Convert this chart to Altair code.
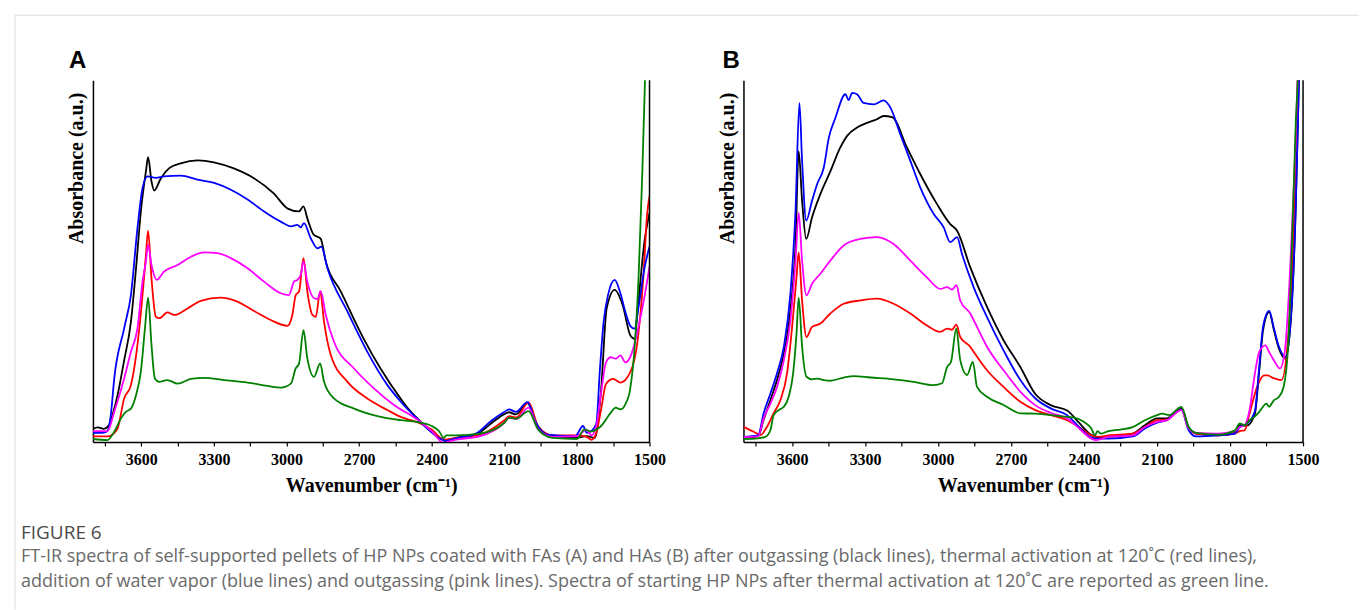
import altair as alt
import pandas as pd

# ---------------- data (wavenumber cm-1, absorbance a.u.) ----------------
WAVENUMBER_TICKS = [3750, 3600, 3450, 3300, 3150, 3000, 2850, 2700, 2550,
                    2400, 2250, 2100, 1950, 1800, 1650, 1500]
SERIES = ["black", "red", "blue", "pink", "green"]
COLORS = ["#000000", "#ff0000", "#0000ff", "#ff00ff", "#008000"]

A_BLACK = [(3800, 3.6), (3780, 4.0), (3755, 3.6), (3735, 4.5), (3719, 7.5), (3698, 13.0), (3672, 22.2),
           (3643, 33.2), (3622, 47.9), (3602, 63.7), (3581, 74.8), (3572, 78.7), (3558, 72.0), (3547, 69.5),
           (3519, 72.9), (3486, 75.6), (3437, 77.0), (3368, 77.8), (3300, 77.3), (3218, 75.6), (3135, 72.9),
           (3053, 68.7), (2995, 64.5), (2949, 63.7), (2930, 65.1), (2914, 61.8), (2888, 57.3), (2859, 56.2),
           (2838, 49.9), (2776, 41.6), (2681, 28.5), (2611, 20.2), (2528, 11.9), (2495, 9.0), (2462, 6.7),
           (2413, 3.4), (2364, 1.1), (2340, 0.2), (2300, 1.1), (2217, 2.0), (2151, 5.3), (2102, 7.6),
           (2080, 8.2), (2053, 7.6), (2004, 10.7), (1971, 5.3), (1922, 2.0), (1808, 1.1), (1759, 1.6),
           (1726, 1.1), (1701, 13.6), (1677, 36.9), (1644, 42.0), (1611, 37.8), (1579, 29.4), (1562, 28.5),
           (1546, 38.7), (1521, 55.4), (1500, 63.3)]
A_BLUE = [(3800, 2.5), (3760, 2.5), (3740, 3.0), (3726, 7.5), (3712, 17.5), (3671, 31.4), (3643, 40.6),
          (3616, 59.1), (3595, 70.2), (3574, 73.4), (3540, 73.0), (3506, 73.4), (3437, 73.6), (3368, 72.5),
          (3299, 71.6), (3230, 69.7), (3161, 67.0), (3093, 63.7), (3024, 60.9), (2982, 59.6), (2955, 60.0),
          (2941, 59.3), (2928, 60.5), (2900, 56.3), (2872, 53.5), (2856, 54.0), (2831, 48.0), (2748, 36.0),
          (2666, 24.9), (2583, 15.7), (2528, 11.1), (2462, 6.5), (2413, 3.4), (2364, 0.8), (2340, 0.3),
          (2300, 1.0), (2217, 2.3), (2151, 6.0), (2102, 8.2), (2080, 9.0), (2053, 8.3), (2004, 11.0),
          (1971, 5.5), (1922, 2.0), (1808, 1.5), (1775, 4.4), (1759, 2.5), (1740, 3.0), (1720, 5.0),
          (1705, 20.0), (1690, 33.0), (1670, 41.0), (1644, 44.8), (1620, 41.0), (1600, 36.0), (1579, 32.0),
          (1562, 31.3), (1546, 37.0), (1521, 48.0), (1500, 54.0)]
A_RED = [(3800, 1.5), (3740, 1.5), (3720, 2.0), (3698, 3.7), (3671, 12.0), (3643, 15.7), (3616, 26.8),
         (3595, 40.6), (3581, 51.7), (3572, 58.4), (3558, 45.2), (3540, 34.6), (3526, 34.2), (3492, 35.8),
         (3464, 35.1), (3409, 36.9), (3354, 39.0), (3272, 39.9), (3203, 38.8), (3134, 36.2), (3065, 33.7),
         (2996, 32.1), (2976, 35.1), (2962, 40.6), (2948, 41.6), (2930, 50.8), (2914, 41.6), (2893, 35.1),
         (2879, 34.6), (2861, 41.6), (2845, 33.2), (2817, 24.0), (2748, 16.6), (2666, 12.0), (2583, 8.8),
         (2528, 6.9), (2462, 5.5), (2400, 3.4), (2350, 0.6), (2300, 1.1), (2200, 2.0), (2100, 6.0),
         (2080, 7.1), (2050, 6.8), (2000, 10.9), (1960, 4.3), (1900, 1.8), (1800, 1.8), (1760, 1.4),
         (1740, 0.6), (1720, 2.5), (1700, 9.0), (1680, 16.0), (1650, 17.4), (1620, 16.4), (1580, 19.2),
         (1550, 27.6), (1525, 46.0), (1510, 62.9), (1500, 68.0)]
A_PINK = [(3800, 3.0), (3740, 3.0), (3712, 8.3), (3671, 17.5), (3643, 24.9), (3616, 31.4), (3595, 44.3),
          (3581, 49.9), (3572, 54.5), (3558, 48.9), (3536, 44.8), (3506, 47.1), (3450, 48.9), (3395, 51.2),
          (3340, 52.4), (3285, 52.2), (3230, 50.8), (3161, 48.0), (3093, 44.3), (3024, 41.1), (2990, 40.6),
          (2969, 44.3), (2955, 44.8), (2941, 46.2), (2930, 49.9), (2914, 44.3), (2886, 39.7), (2872, 39.5),
          (2859, 41.7), (2838, 35.1), (2804, 27.7), (2721, 20.3), (2639, 14.8), (2556, 10.2), (2460, 6.2),
          (2400, 3.0), (2350, -0.3), (2330, 0.1), (2300, 0.6), (2200, 1.6), (2100, 5.3), (2080, 6.7),
          (2050, 6.3), (2000, 9.5), (1960, 3.4), (1900, 1.4), (1800, 1.6), (1760, 3.4), (1740, 1.8),
          (1720, 4.4), (1700, 13.6), (1680, 22.0), (1660, 23.4), (1640, 23.0), (1620, 23.9), (1600, 22.0),
          (1580, 23.4), (1560, 27.6), (1530, 36.9), (1510, 44.3), (1500, 48.5)]
A_GREEN = [(3800, 0.8), (3740, 0.5), (3712, 2.8), (3684, 6.5), (3664, 8.3), (3643, 9.2), (3622, 12.9),
           (3602, 19.4), (3585, 31.4), (3572, 39.9), (3558, 26.8), (3544, 17.5), (3526, 16.6), (3492, 17.1),
           (3450, 16.1), (3395, 17.4), (3340, 17.7), (3258, 17.1), (3161, 16.4), (3079, 15.5), (3024, 15.0),
           (2982, 16.1), (2962, 20.3), (2948, 21.7), (2930, 30.9), (2914, 23.1), (2886, 18.0), (2861, 21.7),
           (2845, 16.6), (2804, 12.0), (2721, 9.2), (2611, 6.9), (2528, 6.0), (2460, 5.5), (2400, 4.4),
           (2370, 3.0), (2350, 1.1), (2340, 1.8), (2300, 1.8), (2200, 2.3), (2100, 5.3), (2080, 6.7),
           (2050, 6.4), (2000, 8.5), (1960, 3.4), (1900, 1.1), (1800, 0.8), (1770, 3.4), (1740, 2.9),
           (1720, 3.4), (1700, 4.4), (1660, 8.1), (1640, 9.5), (1620, 9.0), (1600, 10.4), (1580, 14.6),
           (1560, 27.6), (1545, 46.0), (1530, 74.0), (1520, 97.0), (1510, 125.0), (1500, 150.0)]

B_BLACK = [(3800, 1.1), (3740, 1.5), (3717, 6.1), (3689, 11.6), (3662, 17.1), (3634, 24.4), (3607, 36.4),
           (3586, 54.7), (3573, 80.4), (3559, 66.7), (3542, 56.1), (3518, 62.1), (3484, 68.5), (3442, 74.9),
           (3402, 81.4), (3374, 84.6), (3333, 86.9), (3292, 88.2), (3251, 89.2), (3224, 90.1), (3189, 89.8),
           (3128, 81.4), (3073, 74.0), (3005, 65.8), (2950, 60.2), (2922, 58.4), (2868, 48.3), (2799, 37.3),
           (2731, 28.1), (2662, 20.7), (2602, 13.4), (2535, 10.1), (2468, 8.6), (2418, 5.1), (2368, 1.8),
           (2334, 1.2), (2300, 1.4), (2200, 2.3), (2150, 4.6), (2100, 6.5), (2060, 6.5), (2000, 9.2),
           (1970, 4.1), (1940, 2.3), (1850, 1.8), (1780, 2.5), (1760, 4.6), (1731, 4.5), (1698, 7.8),
           (1681, 19.0), (1664, 31.0), (1639, 35.9), (1620, 31.0), (1600, 26.0), (1572, 23.0), (1547, 37.0),
           (1530, 65.0), (1517, 100.0), (1500, 150.0)]
B_BLUE = [(3800, 1.4), (3740, 1.8), (3717, 7.9), (3689, 13.4), (3662, 19.0), (3634, 26.3), (3607, 41.0),
          (3586, 63.9), (3570, 93.7), (3559, 77.7), (3542, 61.2), (3518, 66.7), (3497, 71.3), (3470, 75.8),
          (3449, 84.1), (3422, 89.6), (3381, 96.1), (3368, 94.5), (3353, 96.5), (3333, 96.1), (3306, 93.7),
          (3265, 93.3), (3224, 94.4), (3196, 92.4), (3155, 85.0), (3114, 77.7), (3073, 70.3), (3018, 63.0),
          (2977, 59.3), (2950, 55.2), (2922, 56.6), (2902, 52.0), (2854, 42.8), (2799, 34.5), (2731, 25.3),
          (2662, 17.1), (2600, 12.0), (2535, 9.2), (2470, 7.4), (2420, 4.1), (2370, 1.2), (2340, 0.9),
          (2300, 0.9), (2200, 1.5), (2150, 3.7), (2100, 5.3), (2060, 6.0), (2000, 8.9), (1970, 3.2),
          (1940, 1.5), (1850, 1.8), (1780, 2.3), (1760, 4.1), (1731, 5.0), (1698, 8.5), (1681, 20.0),
          (1664, 32.0), (1639, 36.2), (1620, 31.5), (1600, 26.5), (1572, 23.5), (1547, 37.0), (1530, 65.0),
          (1517, 100.0), (1500, 150.0)]
B_RED = [(3800, 4.2), (3758, 2.8), (3730, 1.9), (3703, 4.2), (3676, 7.9), (3648, 11.6), (3621, 18.9),
         (3600, 31.8), (3582, 45.5), (3573, 52.4), (3559, 39.1), (3541, 29.0), (3518, 31.8), (3484, 32.7),
         (3443, 35.5), (3388, 38.2), (3319, 39.1), (3251, 39.6), (3183, 38.2), (3114, 35.5), (3046, 32.2),
         (2991, 30.4), (2963, 31.3), (2943, 31.0), (2925, 32.4), (2909, 29.0), (2868, 26.3), (2854, 24.9),
         (2799, 19.8), (2731, 15.2), (2662, 11.1), (2600, 8.8), (2535, 7.4), (2470, 6.0), (2420, 4.1),
         (2370, 1.8), (2340, 1.4), (2300, 1.8), (2200, 2.3), (2150, 4.1), (2100, 6.0), (2060, 6.2),
         (2000, 8.9), (1970, 3.7), (1940, 2.3), (1850, 1.8), (1780, 2.3), (1760, 3.0), (1740, 3.2),
         (1720, 7.8), (1689, 15.2), (1660, 18.4), (1647, 18.4), (1620, 17.6), (1589, 17.1), (1560, 30.0),
         (1540, 55.0), (1525, 90.0), (1515, 120.0), (1500, 150.0)]
B_PINK = [(3800, 1.3), (3740, 1.5), (3717, 6.5), (3689, 10.6), (3662, 15.2), (3634, 22.6), (3607, 33.6),
          (3586, 50.1), (3573, 63.4), (3559, 50.1), (3541, 40.5), (3518, 43.7), (3484, 46.5), (3443, 50.1),
          (3388, 54.3), (3319, 56.1), (3251, 56.6), (3183, 54.7), (3114, 50.1), (3046, 45.5), (2991, 42.3),
          (2963, 42.8), (2943, 42.1), (2925, 43.3), (2909, 39.1), (2868, 35.5), (2840, 31.8), (2799, 26.3),
          (2731, 19.8), (2662, 13.9), (2600, 10.1), (2535, 8.0), (2470, 6.5), (2420, 3.7), (2370, 0.9),
          (2350, 0.5), (2300, 1.4), (2200, 1.8), (2150, 4.1), (2100, 5.5), (2060, 6.0), (2000, 8.8),
          (1970, 3.7), (1940, 2.5), (1850, 2.3), (1780, 3.0), (1760, 4.1), (1740, 4.6), (1720, 8.8),
          (1700, 18.0), (1680, 24.9), (1655, 26.7), (1640, 24.9), (1620, 22.6), (1595, 20.3), (1575, 25.0),
          (1555, 45.0), (1535, 75.0), (1520, 105.0), (1505, 150.0)]
B_GREEN = [(3800, 0.8), (3740, 1.0), (3710, 1.4), (3689, 3.3), (3676, 7.4), (3655, 8.8), (3634, 9.7),
           (3614, 12.5), (3596, 18.9), (3582, 29.9), (3573, 39.9), (3559, 26.3), (3541, 18.0), (3518, 17.3),
           (3497, 17.5), (3470, 17.1), (3443, 16.9), (3388, 17.8), (3347, 18.2), (3278, 17.8), (3183, 17.3),
           (3101, 16.6), (3018, 15.7), (2984, 16.2), (2963, 20.7), (2947, 22.1), (2925, 31.3), (2909, 22.6),
           (2881, 18.5), (2857, 22.1), (2840, 15.2), (2799, 12.5), (2731, 10.2), (2662, 7.9), (2600, 7.8),
           (2500, 7.1), (2440, 6.7), (2400, 5.5), (2370, 3.7), (2355, 1.8), (2345, 3.0), (2330, 2.3),
           (2300, 3.0), (2250, 3.4), (2200, 4.1), (2150, 6.0), (2100, 7.4), (2080, 7.8), (2050, 7.4),
           (2000, 9.7), (1970, 4.1), (1940, 2.5), (1850, 2.0), (1780, 3.2), (1760, 5.1), (1740, 4.6),
           (1720, 6.0), (1700, 6.9), (1680, 8.3), (1650, 10.6), (1640, 9.7), (1620, 11.5), (1600, 12.4),
           (1580, 15.2), (1560, 28.1), (1545, 55.8), (1530, 88.0), (1522, 100.0), (1510, 130.0), (1500, 150.0)]

X_TITLE = "Wavenumber (cm\u207b\u00b9)"
Y_TITLE = "Absorbance (a.u.)"
CAPTION_HEAD = "FIGURE 6"
CAPTION_LINES = [
    "FT-IR spectra of self-supported pellets of HP NPs coated with FAs (A) and HAs (B) after outgassing (black lines), thermal activation at 120\u02daC (red lines),",
    "addition of water vapor (blue lines) and outgassing (pink lines). Spectra of starting HP NPs after thermal activation at 120\u02daC are reported as green line.",
]

SERIF = "Liberation Serif"
PW, PH = 557, 362


def frame(series_map):
    rows = []
    for name, pts in series_map.items():
        for wn, ab in pts:
            rows.append({"series": name, "wn": wn, "abs": ab})
    return pd.DataFrame(rows)


ONE = pd.DataFrame({"k": [0]})


def panel(df, w, letter, letter_dx, extras=()):
    x = alt.X("wn:Q",
              scale=alt.Scale(domain=[1500, 3800], reverse=True, nice=False, zero=False),
              axis=alt.Axis(values=WAVENUMBER_TICKS,
                            labelExpr="datum.value % 300 == 0 ? '' + datum.value : ''",
                            grid=False, tickSize=4, tickColor="black", tickWidth=1.2,
                            domainColor="black", domainWidth=1.5,
                            labelFont=SERIF, labelFontWeight="bold", labelFontSize=16,
                            labelColor="black", labelPadding=6, labelFlush=False,
                            title=X_TITLE, titleFont=SERIF, titleFontWeight="bold",
                            titleFontSize=20, titleColor="black",
                            titleBaseline="alphabetic", titleY=50))
    y = alt.Y("abs:Q",
              scale=alt.Scale(domain=[0, 100], nice=False, zero=False),
              axis=alt.Axis(labels=False, ticks=False, grid=False,
                            domainColor="black", domainWidth=1.5,
                            title=Y_TITLE, titleFont=SERIF, titleFontWeight="bold",
                            titleFontSize=20, titleColor="black", titleAngle=270,
                            titleAlign="right", titleBaseline="alphabetic",
                            titleX=-10, titleY=12))
    lines = alt.Chart(df).mark_line(strokeWidth=1.8, clip=True, interpolate="monotone").encode(
        x=x, y=y,
        color=alt.Color("series:N", scale=alt.Scale(domain=SERIES, range=COLORS), legend=None),
    )
    spine = alt.Chart(ONE).mark_rule(color="black", strokeWidth=1.5).encode(
        x=alt.value(w), y=alt.value(0), y2=alt.value(PH))
    lab = alt.Chart(ONE).mark_text(text=letter, font="Liberation Sans", fontWeight="bold",
                                   fontSize=24, align="left", baseline="alphabetic",
                                   color="black").encode(
        x=alt.value(letter_dx), y=alt.value(-12))
    return alt.layer(lines, spine, lab, *extras).properties(width=w, height=PH)


# page decorations and caption, attached to panel A (origin at 92, 79)
OX, OY = 92, 79
border_top = alt.Chart(ONE).mark_rule(color="#dddddd", strokeWidth=1).encode(
    x=alt.value(14 - OX), x2=alt.value(1359 - OX), y=alt.value(14 - OY))
border_left = alt.Chart(ONE).mark_rule(color="#dddddd", strokeWidth=1).encode(
    x=alt.value(14 - OX), y=alt.value(14 - OY), y2=alt.value(609 - OY))
cap_head = alt.Chart(ONE).mark_text(text=CAPTION_HEAD, font="Open Sans", fontSize=19,
                                    color="#4a4a4a", align="left", baseline="alphabetic").encode(
    x=alt.value(20 - OX), y=alt.value(538 - OY))
cap1 = alt.Chart(ONE).mark_text(text=CAPTION_LINES[0], font="Open Sans", fontSize=18,
                                color="#6a6a6a", align="left", baseline="alphabetic").encode(
    x=alt.value(20 - OX), y=alt.value(561 - OY))
cap2 = alt.Chart(ONE).mark_text(text=CAPTION_LINES[1], font="Open Sans", fontSize=18,
                                color="#6a6a6a", align="left", baseline="alphabetic").encode(
    x=alt.value(20 - OX), y=alt.value(586 - OY))

dfA = frame({"black": A_BLACK, "red": A_RED, "blue": A_BLUE, "pink": A_PINK, "green": A_GREEN})
dfB = frame({"black": B_BLACK, "red": B_RED, "blue": B_BLUE, "pink": B_PINK, "green": B_GREEN})

chartA = panel(dfA, PW, "A", -24, extras=(border_top, border_left, cap_head, cap1, cap2))
chartB = panel(dfB, 560, "B", -21)

chart = alt.hconcat(chartA, chartB, spacing=94, bounds="flush").properties(
    padding={"left": 14, "top": 14, "right": 0, "bottom": 0},
    background="white",
).configure_view(strokeWidth=0, stroke="transparent")

chart.save("out.html", embed_options={"renderer": "svg", "actions": False})
